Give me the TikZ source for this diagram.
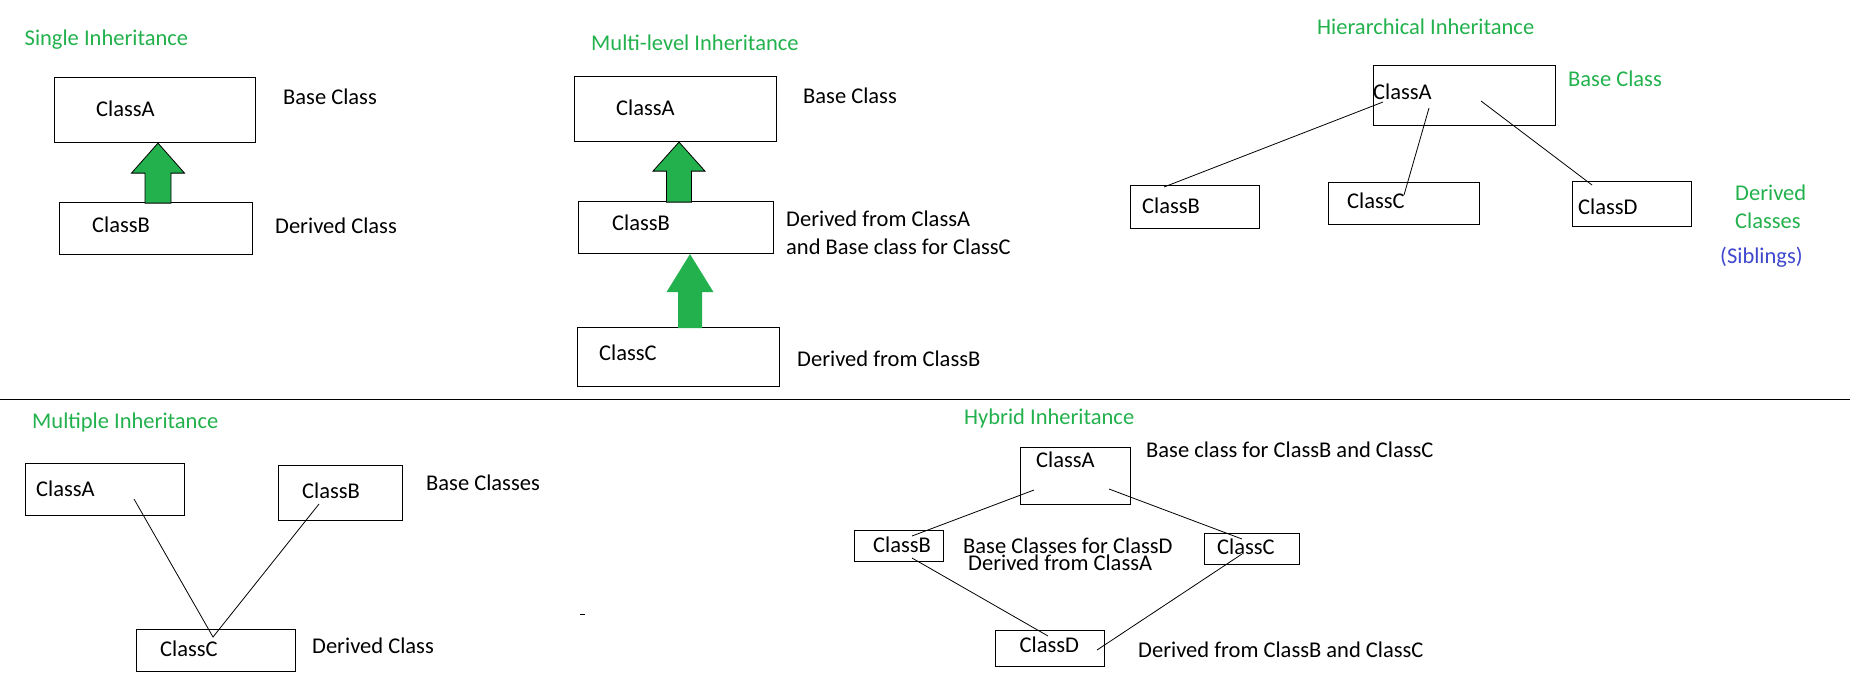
\documentclass[tikz,border=0pt]{standalone}
\usepackage{fontspec}
\setmainfont{Carlito}
\usetikzlibrary{arrows.meta, calc, positioning}
\definecolor{paintgreen}{RGB}{34,177,76}
\definecolor{paintblue}{RGB}{63,72,204}
\tikzset{
  cls/.style={draw, line width=1.1pt, anchor=north west, inner sep=0pt},
  txt/.style={anchor=base west, inner sep=0pt, font=\fontsize{22.5}{27}\selectfont},
  heading/.style={txt, text=paintgreen},
  link/.style={line width=0.8pt},
  fat/.style={fill=paintgreen, draw=black, line width=0.8pt, line join=miter},
  fatplain/.style={fill=paintgreen}
}
% tip, head half width, head height, shaft half width, shaft length
\newcommand\fatarrow[6][fat]{%
  \path[#1] (#2) -- ++(#3,#4) -- ++({-#3+#5},0) -- ++(0,#6) -- ++({-2*#5},0)
    -- ++(0,{-#6}) -- ++({-#3+#5},0) -- cycle;}

\begin{document}
\begin{tikzpicture}[x=1pt, y=-1pt]
    \useasboundingbox (0,0) rectangle (1850,691);

    % single
    \node[heading] (sTitle) at (24.5,45) {Single Inheritance};
    \node[cls, minimum width=201pt, minimum height=65pt] (sA) at (54,77) {};
    \node[cls, minimum width=193.5pt, minimum height=52pt] (sB) at (58.5,202) {};
    \node[txt] (sAt) at (96,116) {ClassA};
    \node[txt] (sBt) at (92,232) {ClassB};
    \node[txt] (sBase) at (283,104) {Base Class};
    \node[txt] (sDer) at (275,233) {Derived Class};
    \coordinate (sTip) at (sA.south -| 158,0);
    \fatarrow{sTip}{26.5}{30}{13}{30}

    % multi-level
    \node[heading] (mTitle) at (591,50) {Multi-level Inheritance};
    \node[cls, minimum width=202pt, minimum height=65pt] (mA) at (574,76) {};
    \node[cls, minimum width=194.5pt, minimum height=52pt] (mB) at (578,201) {};
    \node[cls, minimum width=202pt, minimum height=59pt] (mC) at (577,327) {};
    \node[txt] (mAt) at (616,115) {ClassA};
    \node[txt] (mBt) at (612,230) {ClassB};
    \node[txt] (mCt) at (599,360) {ClassC};
    \node[txt] (mBase) at (803,103) {Base Class};
    \node[txt] (mDer) at (786,226) {Derived from ClassA};
    \node[txt] (mDerBase) at (786,254) {and Base class for ClassC};
    \node[txt] (mDerB) at (797,366) {Derived from ClassB};
    \coordinate (mTipA) at (mA.south -| 679,0);
    \coordinate (mTipB) at (mB.south -| 690,0);
    \fatarrow{mTipA}{26}{29}{12.5}{31}
    \fatarrow[fatplain]{mTipB}{23.5}{38}{12}{36}

    % hierarchical
    \node[heading] (hTitle) at (1317,34) {Hierarchical Inheritance};
    \node[cls, minimum width=182pt, minimum height=60pt] (hA) at (1373,65) {};
    \node[cls, minimum width=129pt, minimum height=43pt] (hB) at (1130,185) {};
    \node[cls, minimum width=150.5pt, minimum height=42pt] (hC) at (1328,182) {};
    \node[cls, minimum width=119pt, minimum height=45pt] (hD) at (1572,181) {};
    \node[txt] (hAt) at (1373,99) {ClassA};
    \node[txt] (hBt) at (1142,213) {ClassB};
    \node[txt] (hCt) at (1347,208) {ClassC};
    \node[txt] (hDt) at (1578,214) {ClassD};
    \node[heading] (hBase) at (1568,86) {Base Class};
    \node[heading] (hDer) at (1735,200) {Derived};
    \node[heading] (hDerCl) at (1735,228) {Classes};
    \node[txt, text=paintblue] (hSib) at (1720,263) {(Siblings)};
    \coordinate (hA1) at (1383,102);
    \coordinate (hA2) at (1429,108);
    \coordinate (hA3) at (1481,101);
    \coordinate (hB1) at (1164,187);
    \coordinate (hC1) at (1404,195);
    \coordinate (hD1) at (1592,185);
    \draw[link] (hA1) -- (hB1) (hA2) -- (hC1) (hA3) -- (hD1);

    \coordinate (sepL) at (0,399);
    \coordinate (sepR) at (1850,399);
    \draw[line width=1pt] (sepL) -- (sepR);

    % multiple
    \node[heading] (pTitle) at (32,428) {Multiple Inheritance};
    \node[cls, minimum width=159pt, minimum height=52pt] (pA) at (25,463) {};
    \node[cls, minimum width=124.5pt, minimum height=55pt] (pB) at (277.5,465) {};
    \node[cls, minimum width=158.5pt, minimum height=42pt] (pC) at (136,629) {};
    \node[txt] (pAt) at (36,496) {ClassA};
    \node[txt] (pBt) at (302,498) {ClassB};
    \node[txt] (pCt) at (160,656) {ClassC};
    \node[txt] (pBase) at (426,490) {Base Classes};
    \node[txt] (pDer) at (312,653) {Derived Class};
    \coordinate (pA1) at (134,499);
    \coordinate (pB1) at (319,504);
    \coordinate (pC1) at (213,637);
    \draw[link] (pA1) -- (pC1) -- (pB1);
    \draw[line width=1pt] (580,614) -- (585,614);

    % hybrid
    \node[heading] (yTitle) at (964,424) {Hybrid Inheritance};
    \node[cls, minimum width=110pt, minimum height=57pt] (yA) at (1020,447) {};
    \node[cls, minimum width=89pt, minimum height=31pt] (yB) at (854,530) {};
    \node[cls, minimum width=95.5pt, minimum height=31pt] (yC) at (1203.5,533) {};
    \node[cls, minimum width=109pt, minimum height=36pt] (yD) at (994.5,630) {};
    \node[txt] (yAt) at (1036,467) {ClassA};
    \node[txt] (yBt) at (873,552) {ClassB};
    \node[txt] (yCt) at (1217,554) {ClassC};
    \node[txt] (yDt) at (1019.5,652) {ClassD};
    \node[txt] (yBase) at (1146,457) {Base class for ClassB and ClassC};
    \node[txt] (yMid) at (963,553) {Base Classes for ClassD};
    \node[txt] (yMidDer) at (968,570) {Derived from ClassA};
    \node[txt] (yDer) at (1138,657) {Derived from ClassB and ClassC};
    \coordinate (yA1) at (1034,490);
    \coordinate (yA2) at (1109,489);
    \coordinate (yB1) at (912,536);
    \coordinate (yB2) at (912,558);
    \coordinate (yC1) at (1242,539);
    \coordinate (yC2) at (1242,554);
    \coordinate (yD1) at (1048,636);
    \coordinate (yD2) at (1097,650);
    \draw[link] (yA1) -- (yB1) (yA2) -- (yC1) (yB2) -- (yD1) (yC2) -- (yD2);
\end{tikzpicture}
\end{document}
